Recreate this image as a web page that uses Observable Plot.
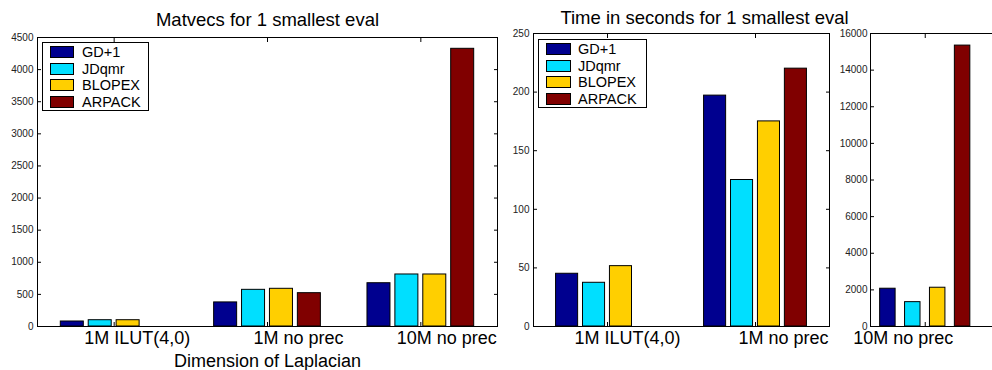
<!DOCTYPE html>
<html><head><meta charset="utf-8">
<script src="https://cdn.jsdelivr.net/npm/d3@7"></script>
<script src="https://cdn.jsdelivr.net/npm/@observablehq/plot@0.6"></script>
<style>
html,body{margin:0;padding:0;background:#fff;overflow:hidden}
#chart{position:relative;width:992px;height:370px;overflow:hidden;font-family:"Liberation Sans",Arial,sans-serif}
.panel{position:absolute;top:0}
.legend{position:absolute;background:#fff;border:1px solid #000;box-sizing:border-box;font-size:14.5px;color:#000}
.sw{position:absolute;height:12px;border:1px solid #000;box-sizing:border-box}
.lab{position:absolute;line-height:14px;white-space:nowrap}
</style></head>
<body><div id="chart"></div>
<script>
// ---- data ----
const groups = ["1M ILUT(4,0)", "1M no prec", "10M no prec"];
const methods = ["GD+1", "JDqmr", "BLOPEX", "ARPACK"];
const methodColors = ["#00008F", "#00DFFF", "#FFCF00", "#800000"];

const matvecsGD1    = [78, 375, 674];
const matvecsJDqmr  = [98, 571, 810];
const matvecsBLOPEX = [98, 587, 810];
const matvecsARPACK = [0, 519, 4324];

const timeGD1    = [45, 197, 2063];
const timeJDqmr  = [37.3, 125, 1330];
const timeBLOPEX = [51.5, 175, 2117];
const timeARPACK = [0, 220, 15340];

const matvecsTicks = [0, 500, 1000, 1500, 2000, 2500, 3000, 3500, 4000, 4500];
const timeTicks = [0, 50, 100, 150, 200, 250];
const time10MTicks = [0, 2000, 4000, 6000, 8000, 10000, 12000, 14000, 16000];

const title1 = "Matvecs for 1 smallest eval";
const title2 = "Time in seconds for 1 smallest eval";
const xLabel = "Dimension of Laplacian";

// ---- drawing ----
const chart = document.getElementById("chart");
const SP = 0.182;
const TL = 4; // inward tick length

function rows(series, groupIdx) {
  const out = [];
  groupIdx.forEach((g, gi) => methods.forEach((m, mi) =>
    out.push({group: groups[g], pos: gi + 1, mi, method: m, value: series[mi][g]})));
  return out;
}

function makePanel(cfg) {
  const data = rows(cfg.series, cfg.groupIdx);
  const tickPos = cfg.groupIdx.map((g, i) => i + 1);
  const xc = d => d.pos + (d.mi - 1.5) * SP;
  const marks = [
    Plot.rect(data, {x1: d => xc(d) - cfg.barW / 2, x2: d => xc(d) + cfg.barW / 2, y1: 0, y2: "value",
      fill: "method", stroke: "#000", strokeWidth: 1}),
    Plot.frame({stroke: "#000", strokeWidth: 1}),
    Plot.axisY({ticks: cfg.yTicks, tickSize: 0, tickPadding: cfg.tp, tickFormat: d => String(d), label: null, fontSize: 10}),
    Plot.axisY({ticks: cfg.yTicks, anchor: "left", tickSize: TL, dx: TL, tickFormat: () => "", label: null, stroke: "#000"}),
    Plot.axisY({ticks: cfg.yTicks, anchor: "right", tickSize: TL, dx: -TL, tickFormat: () => "", label: null, stroke: "#000"}),
    Plot.axisX({ticks: tickPos, anchor: "bottom", tickSize: TL, dy: -TL, tickFormat: () => "", label: null, stroke: "#000"}),
    Plot.axisX({ticks: tickPos, anchor: "top", tickSize: TL, dy: TL, tickFormat: () => "", label: null, stroke: "#000"}),
    Plot.axisX({ticks: tickPos, anchor: "bottom", tickSize: 0, tickPadding: 5,
      tickFormat: p => groups[cfg.groupIdx[p - 1]], textAnchor: "end", dx: cfg.labelDx,
      fontSize: 18, fill: "#000", label: null})
  ];
  if (cfg.title) marks.push(Plot.text([cfg.title], {frameAnchor: "top", dx: cfg.titleDx, dy: cfg.titleDy,
    lineAnchor: "middle", fontSize: 18.5, fill: "#000"}));
  if (cfg.xlabel) marks.push(Plot.text([cfg.xlabel], {frameAnchor: "bottom", dy: 35,
    lineAnchor: "middle", fontSize: 18, fill: "#000"}));
  const svg = Plot.plot({
    width: cfg.width, height: 370,
    marginLeft: cfg.ml, marginRight: cfg.mr, marginTop: cfg.mt, marginBottom: 44,
    x: {domain: cfg.xDomain},
    y: {domain: cfg.yDomain},
    color: {domain: methods, range: methodColors},
    style: {fontFamily: '"Liberation Sans", Arial, sans-serif', fontSize: "10px", color: "#222",
      background: "transparent", overflow: "visible"},
    marks
  });
  svg.classList.add("panel");
  svg.style.left = cfg.left + "px";
  svg.style.position = "absolute";
  svg.style.top = "0px";
  chart.appendChild(svg);
}

makePanel({left: 0, width: 500, ml: 37, mr: 3, mt: 37, tp: 4,
  series: [matvecsGD1, matvecsJDqmr, matvecsBLOPEX, matvecsARPACK], groupIdx: [0, 1, 2],
  xDomain: [0.5, 3.5], yDomain: [0, 4500], yTicks: matvecsTicks, barW: 0.15, labelDx: 76,
  title: title1, titleDx: 0, titleDy: -17, xlabel: xLabel});

makePanel({left: 500, width: 340, ml: 33, mr: 11, mt: 33, tp: 4,
  series: [timeGD1, timeJDqmr, timeBLOPEX, timeARPACK], groupIdx: [0, 1],
  xDomain: [0.5, 2.5], yDomain: [0, 250], yTicks: timeTicks, barW: 0.149, labelDx: 73,
  title: title2, titleDx: 23, titleDy: -15.5});

makePanel({left: 840, width: 170, ml: 30, mr: 10, mt: 33, tp: 3,
  series: [timeGD1, timeJDqmr, timeBLOPEX, timeARPACK], groupIdx: [2],
  xDomain: [0.6, 1.55], yDomain: [0, 16000], yTicks: time10MTicks, barW: 0.113, labelDx: 28});

function makeLegend(left, top, w, h, swW) {
  const box = document.createElement("div");
  box.className = "legend";
  Object.assign(box.style, {left: left + "px", top: top + "px", width: w + "px", height: h + "px"});
  const centers = [10, 27, 43, 60];
  methods.forEach((m, i) => {
    const sw = document.createElement("div");
    sw.className = "sw";
    Object.assign(sw.style, {left: "7px", top: (centers[i] - 6 - 1) + "px", width: swW + "px", background: methodColors[i]});
    box.appendChild(sw);
    const lab = document.createElement("div");
    lab.className = "lab";
    lab.textContent = m;
    Object.assign(lab.style, {left: "39px", top: (centers[i] - 8) + "px"});
    box.appendChild(lab);
  });
  chart.appendChild(box);
}
makeLegend(42, 42, 107, 69, 24);
makeLegend(538, 39, 109, 69, 25);
</script></body></html>
